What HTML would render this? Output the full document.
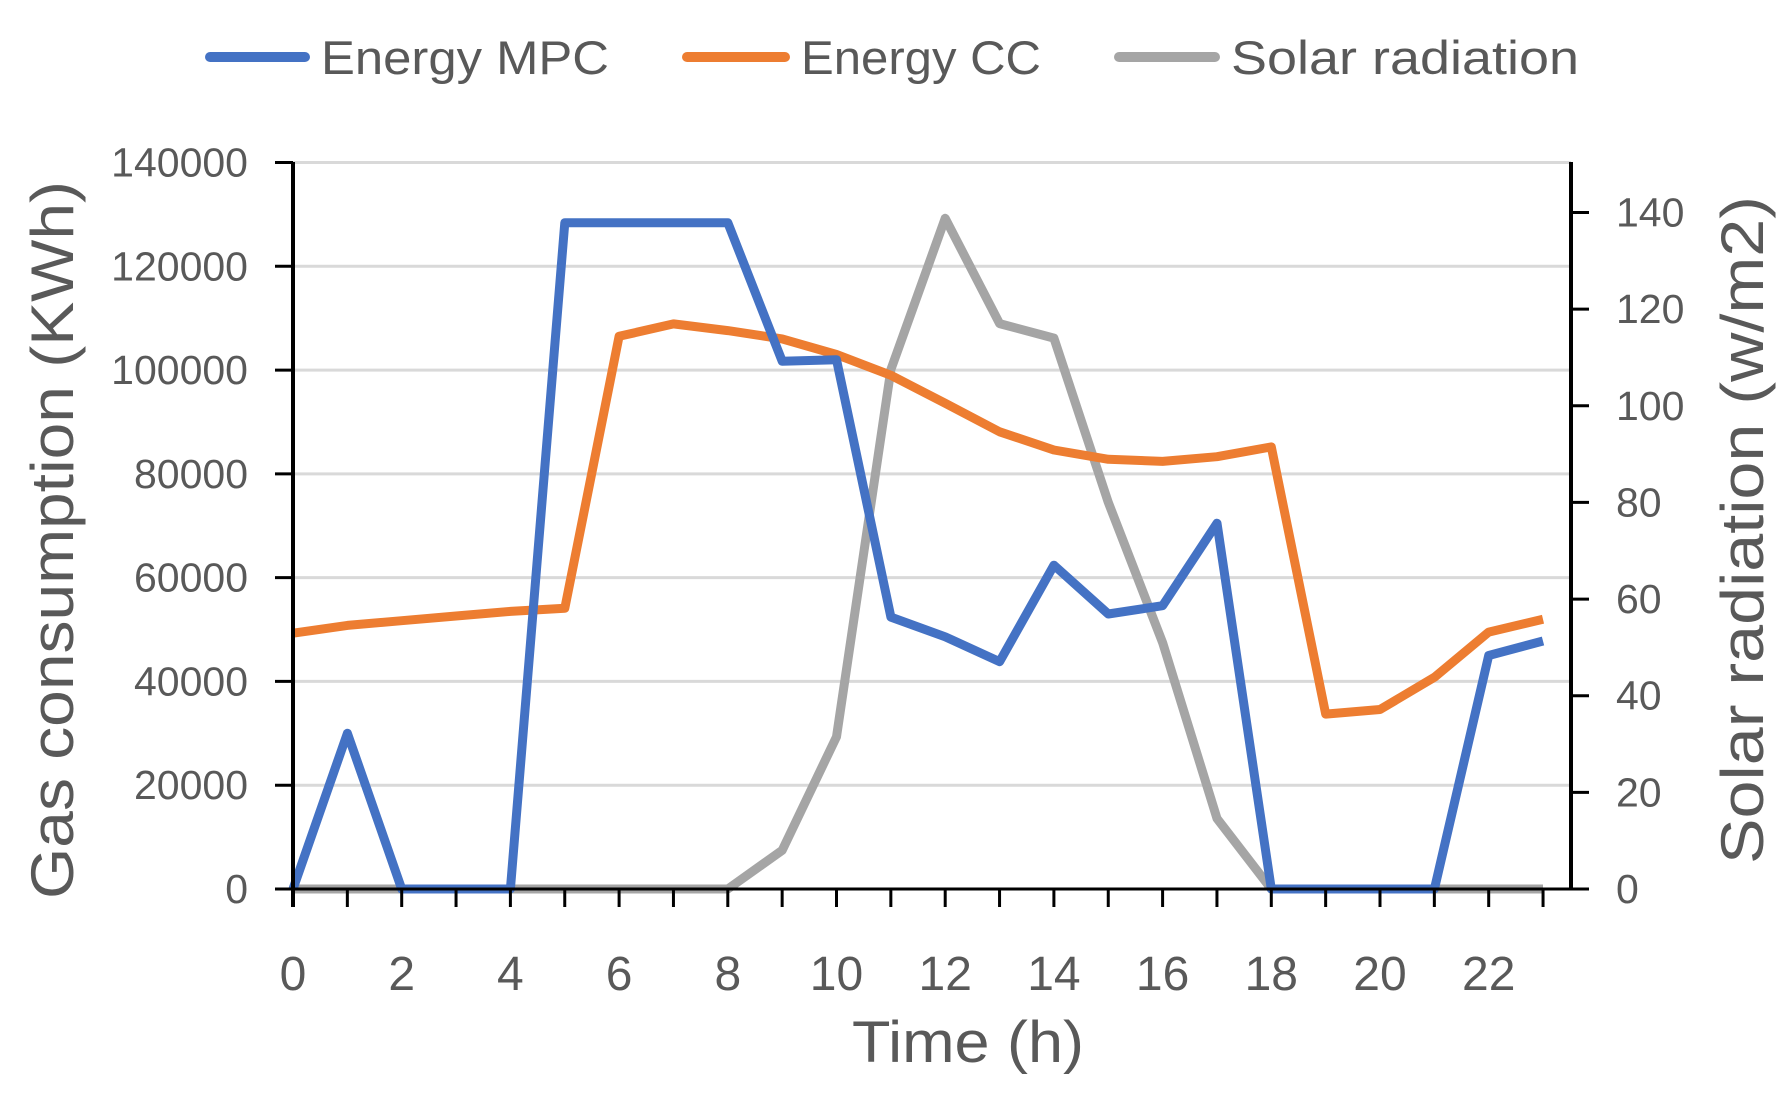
<!DOCTYPE html>
<html><head><meta charset="utf-8"><style>
html,body{margin:0;padding:0;background:#fff;}
svg{display:block;font-family:"Liberation Sans",sans-serif;}
</style></head><body>
<svg id="chart" width="1782" height="1101" viewBox="0 0 1782 1101" xmlns="http://www.w3.org/2000/svg">
<g id="grid"></g>
<g id="series"></g>
<g id="axes"></g>
<g font-size="47" fill="#595959">
  <line x1="210" y1="57" x2="305" y2="57" stroke="#4472c4" stroke-width="10" stroke-linecap="round"/>
  <text x="321" y="74" textLength="288" lengthAdjust="spacingAndGlyphs">Energy MPC</text>
  <line x1="687" y1="57" x2="785" y2="57" stroke="#ed7d31" stroke-width="10" stroke-linecap="round"/>
  <text x="801" y="74" textLength="240" lengthAdjust="spacingAndGlyphs">Energy CC</text>
  <line x1="1119" y1="57" x2="1215" y2="57" stroke="#a5a5a5" stroke-width="10" stroke-linecap="round"/>
  <text x="1231" y="74" textLength="348" lengthAdjust="spacingAndGlyphs">Solar radiation</text>
</g>
<text x="968" y="1062" font-size="58" fill="#595959" text-anchor="middle" textLength="232" lengthAdjust="spacingAndGlyphs">Time (h)</text>
<text transform="translate(73,540) rotate(-90)" font-size="60" fill="#595959" text-anchor="middle" textLength="718" lengthAdjust="spacingAndGlyphs">Gas consumption (KWh)</text>
<text transform="translate(1763,530) rotate(-90)" font-size="60" fill="#595959" text-anchor="middle" textLength="668" lengthAdjust="spacingAndGlyphs">Solar radiation (w/m2)</text>
</svg>
<script>
const hours = [0,1,2,3,4,5,6,7,8,9,10,11,12,13,14,15,16,17,18,19,20,21,22,23];
const energyMPC = [0,30000,0,0,0,128400,128400,128400,128400,101700,102000,52400,48600,43800,62400,53000,54600,70500,0,0,0,0,45000,47800];
const energyCC = [49300,50800,51700,52600,53500,54100,106500,108900,107600,106000,103000,99000,93600,88100,84600,82800,82400,83300,85200,33700,34600,40800,49500,52000];
const solar = [0,0,0,0,0,0,0,0,0,8,31.5,107.5,138.8,117,114,80,51,14.6,0,0,0,0,0,0];
const leftTicks = [0,20000,40000,60000,80000,100000,120000,140000];
const rightTicks = [0,20,40,60,80,100,120,140];
const xTickLabels = [0,2,4,6,8,10,12,14,16,18,20,22];

const NS="http://www.w3.org/2000/svg";
const X0=293, XR=1571, YB=889;
function xs(h){return X0 + h*54.35;}
function yl(v){return YB - v/140000*(YB-162.5);}
function yr(v){return YB - v/140*(YB-212.5);}
function mk(tag,attrs,parent,txt){const e=document.createElementNS(NS,tag);for(const k in attrs)e.setAttribute(k,attrs[k]);if(txt!==undefined)e.textContent=txt;parent.appendChild(e);return e;}
const grid=document.getElementById('grid'), axes=document.getElementById('axes'), ser=document.getElementById('series');

leftTicks.forEach(v=>{
  if(v>0){const g=mk('line',{x1:X0,x2:XR,y1:yl(v),y2:yl(v),stroke:'#d9d9d9','stroke-width':3},grid);
  
  }
  const t=mk('line',{x1:X0-18,x2:X0,y1:yl(v),y2:yl(v),stroke:'#000','stroke-width':3},axes);
  
  
  const l=mk('text',{x:248,y:yl(v)+14,'font-size':41,fill:'#595959','text-anchor':'end'},axes,String(v));
  
  
});
rightTicks.forEach(v=>{
  const t=mk('line',{x1:XR,x2:XR+18,y1:yr(v),y2:yr(v),stroke:'#000','stroke-width':3},axes);
  
  
  const l=mk('text',{x:1616,y:yr(v)+14,'font-size':41,fill:'#595959'},axes,String(v));
  
  
});
hours.forEach(h=>{
  const t=mk('line',{x1:xs(h),x2:xs(h),y1:YB,y2:YB+18,stroke:'#000','stroke-width':3},axes);
  
  
});
xTickLabels.forEach(h=>{
  const l=mk('text',{x:xs(h),y:990,'font-size':48,fill:'#595959','text-anchor':'middle'},axes,String(h));
  
  
});
const la=mk('line',{x1:X0,x2:X0,y1:162,y2:YB+18,stroke:'#000','stroke-width':4},axes);


const ra=mk('line',{x1:XR,x2:XR,y1:162,y2:YB,stroke:'#000','stroke-width':4},axes);


const xa=mk('line',{x1:X0-18,x2:XR+18,y1:YB,y2:YB,stroke:'#000','stroke-width':3},axes);



function path(vals,yf,color,name){
  const d=vals.map((v,i)=>(i?'L':'M')+xs(hours[i]).toFixed(1)+','+yf(v).toFixed(1)).join(' ');
  const p=mk('path',{d:d,fill:'none',stroke:color,'stroke-width':9,'stroke-linejoin':'round','stroke-linecap':'butt'},ser);
  
  
}
path(solar,yr,'#a5a5a5','solar-radiation-line');
path(energyCC,yl,'#ed7d31','energy-cc-line');
path(energyMPC,yl,'#4472c4','energy-mpc-line');
</script>
</body></html>
